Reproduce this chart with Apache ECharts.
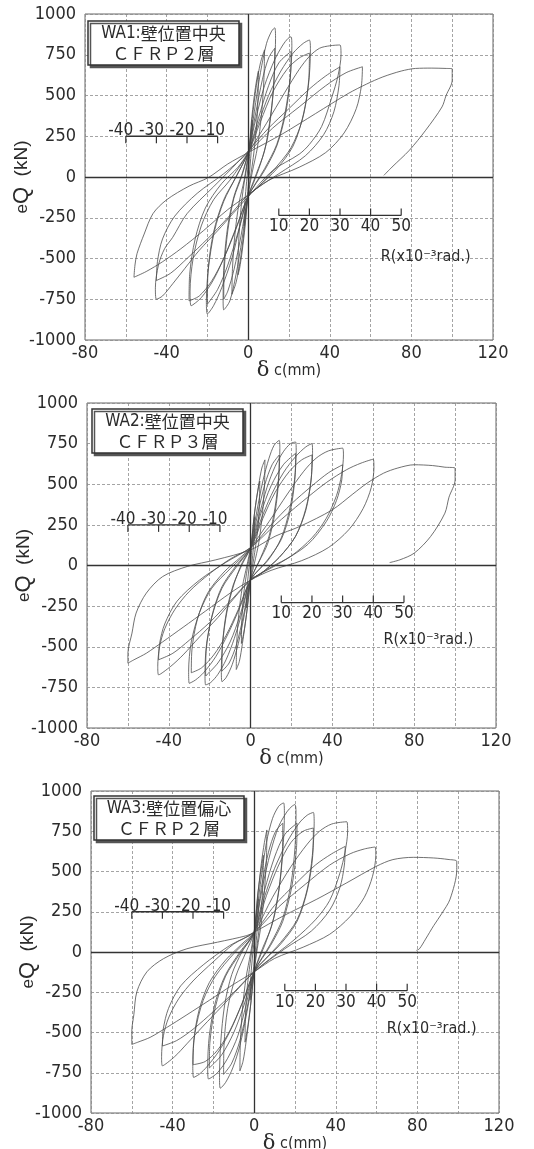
<!DOCTYPE html>
<html><head><meta charset="utf-8">
<script src="https://cdn.jsdelivr.net/npm/echarts@6/dist/echarts.min.js"></script>
<style>html,body{margin:0;padding:0;background:#fff}#c{width:534px;height:1149px}</style>
</head><body><div id="c"></div>
<script>
// ---------- data ----------
const xTickLabels = [-80, -40, 0, 40, 80, 120];
const yTicks = [-1000, -750, -500, -250, 0, 250, 500, 750, 1000];
const rNegTicks = [-40, -30, -20, -10];
const rPosTicks = [10, 20, 30, 40, 50];
const mmPerR = 1.5;               // 10 x10^-3 rad  = 15 mm
const panelNames = ['WA1:', 'WA2:', 'WA3:'];
const panelLocs = ['壁位置中央', '壁位置中央', '壁位置偏心'];
const panelSubs = ['ＣＦＲＰ２層', 'ＣＦＲＰ３層', 'ＣＦＲＰ２層'];
const rNegLevel = [250, 250, 250];
const rPosLevel = [-236, -228, -240];
const rUnitPos = [[65, -488], [65, -455], [65, -480]];

const wa1Curve = [
[0,0],[1,200],[2,350],[1.8,220],[1,80],[0,-60],[-1,-180],[-2,-300],[-1.8,-180],[-1,-60],[0,80],
[1.5,330],[3,500],[4.2,600],[5,650],[4.8,480],[4,300],[2.5,120],[0,-100],[-1.5,-300],[-3,-460],[-4.2,-560],[-5,-600],[-4.8,-440],[-4,-260],[-2.5,-80],[0,120],
[2,360],[4,560],[6,700],[8,780],[7.7,600],[6.5,380],[4.5,180],[2,30],[0,-110],[-2,-330],[-4,-520],[-6,-650],[-8,-720],[-7.7,-560],[-6.5,-350],[-4.5,-160],[-2,-20],[0,140],
[3,400],[6,640],[9,820],[11.5,895],[13,915],[13.4,850],[13,700],[12,480],[9.5,240],[6,80],[2.5,-40],[0,-120],[-3,-380],[-6,-600],[-9,-760],[-12,-815],[-12.3,-740],[-11.8,-520],[-10,-300],[-7,-120],[-3,20],[0,150],
[3.5,380],[7,600],[10,730],[13,790],[12.8,620],[11,380],[8,160],[4,20],[0,-120],[-3.5,-360],[-7,-570],[-10,-700],[-12,-750],[-11.7,-560],[-10,-330],[-7,-130],[-3,10],[0,150],
[4,370],[8,560],[13,720],[17,810],[19.5,850],[21,860],[21.4,800],[20.5,600],[18,390],[14,200],[8,50],[0,-120],[-4,-300],[-8,-500],[-13,-680],[-17,-790],[-20,-840],[-20.5,-760],[-19.5,-560],[-16.5,-330],[-12,-150],[-6,0],[0,150],
[5,360],[10,560],[15,700],[21,770],[20.7,620],[18.5,400],[14,190],[8,40],[0,-120],[-5,-340],[-10,-540],[-15,-690],[-20,-780],[-19.7,-580],[-17,-340],[-12,-140],[-6,0],[0,150],
[5,330],[10,500],[16,650],[22,760],[27,820],[30,840],[30.5,780],[29.5,560],[26.5,350],[21,180],[13,50],[5,-60],[0,-120],[-5,-280],[-11,-470],[-17,-630],[-23,-740],[-28,-790],[-28.5,-700],[-27,-500],[-23,-300],[-17,-140],[-9,-20],[0,150],
[6,340],[12,520],[19,660],[25,730],[30,760],[29.7,600],[27,380],[22,190],[14,50],[5,-60],[0,-120],[-6,-320],[-12,-500],[-18,-640],[-24,-730],[-29,-760],[-28.7,-600],[-26,-380],[-21,-190],[-13,-40],[-5,60],[0,150],
[9,330],[18,520],[25,660],[30,740],[35,790],[40,805],[45,810],[45.5,750],[44,620],[41,490],[36,310],[30,200],[25,140],[12,40],[0,-120],[-7.5,-225],[-15,-330],[-24,-450],[-31,-560],[-37,-655],[-42,-730],[-45,-750],[-45.5,-680],[-44,-540],[-41,-440],[-37,-370],[-30,-225],[-17,-60],[-7.5,60],[0,160],
[10,300],[20,420],[30,540],[38,620],[45,676],[44.5,560],[42,400],[37,260],[28,130],[15,20],[0,-110],[-10,-250],[-20,-380],[-30,-500],[-38,-590],[-45,-635],[-44.5,-520],[-42,-380],[-36,-240],[-25,-100],[-12,20],[0,150],
[12,300],[25,430],[38,560],[48,640],[56,676],[55.5,560],[53,420],[47,270],[38,150],[25,60],[10,-20],[0,-110],[-10,-200],[-22,-330],[-33,-440],[-42,-520],[-50,-580],[-56,-615],[-55.5,-540],[-54.5,-470],[-51,-350],[-46.7,-225],[-40,-140],[-29,-56],[-19.6,-4],[-10,80],[0,150],
[17,266],[33,389],[49,512],[58,570],[66,614],[75,650],[82,666],[90,668],[97,666],[100,664],[100,594],[97,500],[95,430],[87,287],[79,164],[70.5,61],[66.5,10]
];

const wa2Curve = [
[0,0],[1,170],[2,300],[1.8,180],[1,60],[0,-50],[-1,-150],[-2,-260],[-1.8,-150],[-1,-40],[0,70],
[1.5,280],[3,420],[4,490],[4.5,520],[4.3,380],[3.5,220],[2,80],[0,-80],[-1.5,-250],[-3,-390],[-4,-455],[-4.5,-480],[-4.3,-340],[-3.5,-190],[-2,-50],[0,100],
[2,330],[4,500],[5.5,600],[7,650],[6.8,500],[5.8,320],[4,140],[1.8,10],[0,-90],[-2,-300],[-4,-480],[-5.5,-590],[-7,-640],[-6.8,-480],[-5.8,-300],[-4,-130],[-1.8,0],[0,110],
[3,330],[6,520],[9,660],[11.5,740],[14,770],[14.3,720],[13.8,560],[12,360],[9,180],[5,50],[0,-90],[-3,-300],[-6,-480],[-9,-610],[-12,-690],[-14,-715],[-14.3,-650],[-13.7,-480],[-11.5,-280],[-8,-110],[-4,20],[0,110],
[3.5,320],[7,500],[10.5,620],[14,680],[13.8,540],[12,330],[8.5,140],[4,20],[0,-90],[-3.5,-310],[-7,-490],[-10.5,-600],[-14,-650],[-13.8,-500],[-12,-300],[-8.5,-120],[-4,10],[0,110],
[4,300],[8,480],[12,610],[16,700],[19.5,750],[22,760],[22.3,700],[21.5,530],[19,340],[15,170],[9,40],[0,-90],[-4,-280],[-8,-450],[-12,-580],[-16,-670],[-19.5,-720],[-22,-735],[-22.3,-660],[-21.5,-480],[-18.5,-290],[-14,-130],[-7,0],[0,110],
[5,320],[10,490],[16,620],[22,690],[21.7,540],[19.5,340],[15,160],[8,30],[0,-90],[-5,-300],[-10,-470],[-16,-600],[-22,-680],[-21.7,-520],[-19,-320],[-14,-140],[-7,-10],[0,110],
[5,280],[10,430],[16,570],[22,670],[27,730],[30,750],[30.3,690],[29.5,520],[27,340],[22,180],[14,50],[5,-50],[0,-90],[-5,-250],[-11,-420],[-17,-560],[-23,-660],[-27,-705],[-30,-725],[-30.3,-650],[-29,-470],[-25,-290],[-19,-140],[-10,-20],[0,110],
[6,290],[12,450],[19,580],[25,650],[30,680],[29.7,540],[27,350],[22,180],[14,50],[5,-50],[0,-90],[-6,-270],[-12,-430],[-18,-550],[-24,-630],[-29,-660],[-28.7,-520],[-26,-330],[-21,-170],[-13,-40],[-5,50],[0,110],
[9,270],[18,440],[26,580],[32,660],[38,705],[45,722],[45.4,680],[44.5,560],[42,430],[37,290],[30,170],[20,60],[10,-10],[0,-90],[-8,-200],[-16,-320],[-25,-440],[-33,-550],[-39,-620],[-45,-673],[-45.4,-620],[-44.5,-500],[-42,-390],[-37,-270],[-30,-160],[-20,-50],[-10,40],[0,110],
[10,250],[20,380],[30,490],[38,570],[45,620],[44.5,520],[42,400],[37,270],[28,130],[15,20],[0,-90],[-10,-220],[-20,-350],[-30,-460],[-38,-540],[-45,-580],[-44.5,-480],[-42,-360],[-36,-220],[-25,-90],[-12,20],[0,110],
[12,250],[25,390],[37,510],[47,590],[54,630],[60,654],[60.3,600],[59,480],[55,350],[48,220],[38,110],[25,30],[10,-30],[0,-90],[-10,-170],[-22,-280],[-33,-380],[-43,-470],[-51,-540],[-57,-580],[-60,-601],[-60,-540],[-58,-416],[-56,-293],[-51,-170],[-43,-68],[-31,-6],[-17,35],[0,96],
[12,180],[24,240],[40,343],[50,440],[57,507],[65,568],[72,600],[80,620],[89,615],[95,605],[100,599],[100,527],[97,420],[95,322],[88,178],[80,76],[73,35],[68,18]
];

const wa3Curve = [
[0,0],[1,200],[2,330],[1.8,200],[1,70],[0,-60],[-1,-180],[-2,-300],[-1.8,-180],[-1,-50],[0,80],
[1.5,330],[3,480],[4,560],[4.5,600],[4.3,440],[3.5,260],[2,100],[0,-100],[-1.5,-300],[-3,-450],[-4,-530],[-4.5,-560],[-4.3,-400],[-3.5,-230],[-2,-70],[0,120],
[2,380],[3.5,550],[5,680],[6.2,758],[6,580],[5,380],[3.5,180],[1.5,20],[0,-120],[-2,-360],[-4,-560],[-5.5,-680],[-7,-738],[-6.8,-560],[-5.8,-360],[-4,-160],[-1.8,-10],[0,130],
[3,420],[6,680],[9,830],[12,905],[14.4,926],[14.8,860],[14.3,680],[12.8,450],[10,230],[6,70],[2.5,-40],[0,-123],[-3.5,-370],[-7,-580],[-10.5,-720],[-14,-810],[-16.6,-846],[-17,-780],[-16.4,-560],[-14.5,-330],[-11,-140],[-6,0],[0,123],
[3.5,400],[7,620],[10.5,750],[14,800],[13.8,620],[12,380],[8.5,160],[4,20],[0,-123],[-3.5,-350],[-7,-550],[-11,-690],[-15,-760],[-14.8,-580],[-13,-350],[-9,-150],[-4,0],[0,123],
[4,400],[8,620],[12,780],[16,870],[18.5,905],[20,916],[20.5,860],[20,650],[18,420],[14,210],[8,50],[0,-123],[-4,-330],[-8,-520],[-13,-660],[-18,-750],[-22.4,-789],[-22.8,-720],[-22,-520],[-19,-310],[-14,-140],[-7,0],[0,123],
[5,380],[10,590],[15,730],[21,800],[20.7,640],[18.5,410],[14,190],[8,40],[0,-123],[-5,-330],[-10,-500],[-16,-640],[-22,-720],[-21.7,-560],[-19,-340],[-14,-150],[-7,-10],[0,123],
[5,340],[10,520],[16,680],[22,800],[26,850],[29,867],[29.4,800],[28.5,600],[26,390],[21,200],[13,60],[5,-50],[0,-123],[-5,-290],[-11,-470],[-17,-610],[-23,-710],[-27,-760],[-29.7,-779],[-30.1,-700],[-29,-500],[-25,-300],[-19,-150],[-10,-10],[0,123],
[6,350],[12,540],[18,680],[24,750],[29,770],[28.7,600],[26,380],[21,190],[13,50],[5,-50],[0,-123],[-6,-320],[-12,-490],[-18,-610],[-24,-680],[-30,-700],[-29.7,-560],[-27,-360],[-22,-190],[-14,-50],[-6,50],[0,123],
[9,340],[18,530],[26,670],[32,750],[38,795],[45.4,809],[45.8,750],[44.5,620],[42,490],[37,320],[30,200],[20,80],[10,-20],[0,-123],[-8,-230],[-16,-340],[-25,-460],[-33,-570],[-39,-650],[-45,-707],[-45.4,-650],[-44.5,-520],[-42,-410],[-37,-290],[-30,-180],[-20,-60],[-10,50],[0,123],
[10,290],[20,420],[30,540],[38,610],[44.6,656],[44.2,540],[42,400],[37,260],[28,130],[15,20],[0,-123],[-10,-250],[-20,-370],[-30,-480],[-38,-550],[-45,-584],[-44.6,-480],[-42,-350],[-36,-210],[-25,-80],[-12,40],[0,123],
[12,280],[25,420],[37,540],[47,610],[54,640],[59.3,652],[59.6,600],[58,470],[54,340],[47,220],[37,110],[24,30],[10,-40],[0,-123],[-10,-200],[-22,-300],[-33,-390],[-43,-470],[-51,-530],[-57,-560],[-60,-574],[-60,-492],[-59,-390],[-57.5,-246],[-52.6,-123],[-44.4,-41],[-33,20],[-18,61],[-3.6,102],[0,123],
[14.4,225],[30.7,328],[45.4,430],[60,533],[68,574],[78,588],[88,584],[95,575],[99.3,563],[99.3,512],[96,328],[92,240],[88,164],[84,80],[81,20],[79.5,10]
];

const curves = [wa1Curve, wa2Curve, wa3Curve];

// ---------- layout ----------
const grids = [
  {left: 85, top: 14, width: 408, height: 326},
  {left: 87, top: 403, width: 409, height: 325},
  {left: 91, top: 791, width: 408, height: 322}
];
const boxes = [[88, 21, 151, 44], [92, 409, 151, 44], [94, 796, 150, 44]];
const numFont = "'Liberation Sans Narrow','DejaVu Sans Condensed','Arial Narrow',sans-serif";
const cjkFont = "'Noto Sans CJK JP','Noto Sans CJK SC',sans-serif";
const ink = '#2b2b2b';

const chart = echarts.init(document.getElementById('c'), null, {renderer: 'canvas'});

const xAxes = [], yAxes = [], series = [], graphics = [];
grids.forEach((g, i) => {
  xAxes.push({
    gridIndex: i, type: 'value', min: -80, max: 120, interval: 20,
    axisLine: {show: false}, axisTick: {show: false},
    splitLine: {show: true, lineStyle: {color: '#8d8d8d', type: [3, 2], width: 0.8}},
    axisLabel: {
      margin: 4, color: ink, fontSize: 18, fontFamily: numFont,
      formatter: v => xTickLabels.indexOf(v) >= 0 ? String(v) : ''
    },
    name: '{d|δ}{c| c(mm)}', nameLocation: 'middle', nameGap: 20, nameMoveOverlap: false,
    nameTextStyle: {color: ink, rich: {
      d: {fontSize: 21, fontFamily: "'DejaVu Serif',serif", color: ink},
      c: {fontSize: 16, fontFamily: numFont, color: ink}
    }}
  });
  yAxes.push({
    gridIndex: i, type: 'value', min: yTicks[0], max: yTicks[yTicks.length - 1], interval: 250,
    axisLine: {show: false}, axisTick: {show: false},
    splitLine: {show: true, lineStyle: {color: '#8d8d8d', type: [3, 2], width: 0.8}},
    axisLabel: {margin: 9, color: ink, fontSize: 18, fontFamily: numFont,
      formatter: v => String(v)},
    name: '{e|e}{q|Q}{k|  (kN)}', nameLocation: 'middle', nameGap: 52, nameRotate: 90,
    nameMoveOverlap: false,
    nameTextStyle: {color: ink, rich: {
      e: {fontSize: 17, fontFamily: "'Liberation Sans',sans-serif", color: ink},
      q: {fontSize: 22, fontFamily: "'Liberation Sans',sans-serif", color: ink},
      k: {fontSize: 19, fontFamily: "'Liberation Sans',sans-serif", color: ink}
    }}
  });

  series.push({
    type: 'line', xAxisIndex: i, yAxisIndex: i, data: curves[i],
    symbol: 'none', smooth: 0.3, z: 3,
    lineStyle: {color: '#4d4d4d', width: 0.8},
    markLine: {
      silent: true, symbol: ['none', 'none'], label: {show: false},
      lineStyle: {color: '#333', width: 1.3, type: 'solid'},
      data: [{xAxis: 0}, {yAxis: 0}]
    }
  });

  // R scale baselines
  series.push({
    type: 'line', xAxisIndex: i, yAxisIndex: i, symbol: 'none', z: 4,
    lineStyle: {color: '#333', width: 1.3},
    data: [[rNegTicks[0] * mmPerR, rNegLevel[i]], [rNegTicks[rNegTicks.length - 1] * mmPerR, rNegLevel[i]]]
  });
  series.push({
    type: 'line', xAxisIndex: i, yAxisIndex: i, symbol: 'none', z: 4,
    lineStyle: {color: '#333', width: 1.3},
    data: [[rPosTicks[0] * mmPerR, rPosLevel[i]], [rPosTicks[rPosTicks.length - 1] * mmPerR, rPosLevel[i]]]
  });
  const tickSeries = (ticks, level, dir, dx) => ({
    type: 'custom', xAxisIndex: i, yAxisIndex: i, z: 5, silent: true,
    data: ticks.map(r => [r * mmPerR, level, r]),
    renderItem: (params, api) => {
      const p = api.coord([api.value(0), api.value(1)]);
      return {type: 'group', children: [
        {type: 'line', shape: {x1: p[0], y1: p[1], x2: p[0], y2: p[1] + dir * 7},
         style: {stroke: '#333', lineWidth: 1.2}},
        {type: 'text', style: {
          text: String(api.value(2)), x: p[0] + dx, y: dir > 0 ? p[1] + 3 : p[1] + 3,
          textAlign: 'center', textVerticalAlign: dir > 0 ? 'bottom' : 'top',
          font: '17px ' + numFont, fill: ink}}
      ]};
    }
  });
  series.push(tickSeries(rNegTicks, rNegLevel[i], 1, -5));
  series.push(tickSeries(rPosTicks, rPosLevel[i], -1, 0));
  series.push({
    type: 'custom', xAxisIndex: i, yAxisIndex: i, z: 5, silent: true,
    data: [rUnitPos[i]],
    renderItem: (params, api) => {
      const p = api.coord([api.value(0), api.value(1)]);
      return {type: 'text', style: {
        text: 'R(x10⁻³rad.)', x: p[0], y: p[1], textAlign: 'left', textVerticalAlign: 'middle',
        font: '16px ' + numFont, fill: ink}};
    }
  });

  const b = boxes[i];
  graphics.push({
    type: 'rect', z: 10, shape: {x: b[0], y: b[1], width: b[2], height: b[3]},
    style: {fill: '#fff', stroke: '#333', lineWidth: 1.5,
            shadowColor: '#555', shadowBlur: 0, shadowOffsetX: 2.5, shadowOffsetY: 2.5}
  });
  graphics.push({
    type: 'text', z: 11,
    style: {
      x: b[0] + b[2] / 2, y: b[1] + 3, textAlign: 'center', textVerticalAlign: 'top',
      text: '{a|' + panelNames[i] + '}{b|' + panelLocs[i] + '}\n{b|' + panelSubs[i] + '}',
      rich: {
        a: {fontSize: 17, fontFamily: numFont, fill: ink, lineHeight: 20},
        b: {fontSize: 17, fontFamily: cjkFont, fill: ink, lineHeight: 20}
      }
    }
  });
});

chart.setOption({
  animation: false,
  backgroundColor: '#fff',
  grid: grids.map(g => Object.assign({show: true, borderColor: '#666', borderWidth: 1,
    backgroundColor: 'transparent', containLabel: false, outerBoundsMode: 'none'}, g)),
  xAxis: xAxes,
  yAxis: yAxes,
  series: series,
  graphic: graphics
});
</script></body></html>
